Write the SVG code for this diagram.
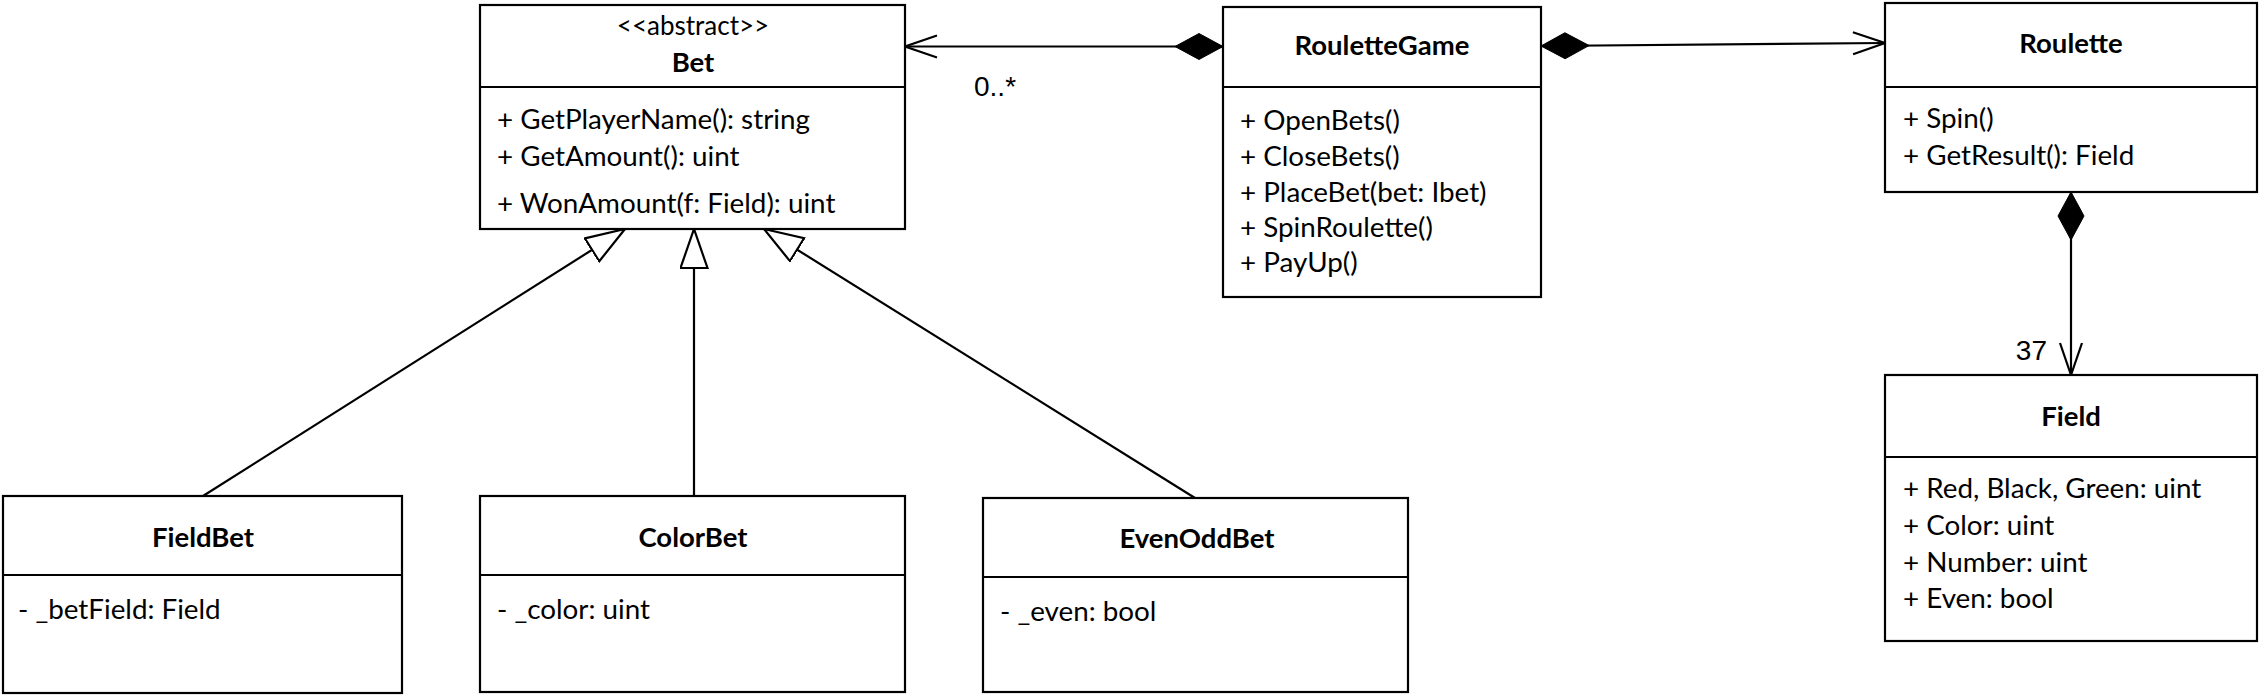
<svg xmlns="http://www.w3.org/2000/svg" width="2264" height="698" viewBox="0 0 2264 698">
<style>
.box{fill:#fff;stroke:#000;stroke-width:2.2}
.div{stroke:#000;stroke-width:2.2}
.t{font-family:Lato,"Open Sans","Liberation Sans",sans-serif;font-size:27.8px;fill:#000}
.b{font-weight:bold;text-anchor:middle;font-size:27.5px}
.c{text-anchor:middle;font-size:26px}
.m{font-family:"Liberation Sans",Arial,sans-serif;font-size:28px;fill:#000}
.ln{fill:none;stroke:#000;stroke-width:2.2}
</style>
<defs>
<marker id="tri" markerUnits="userSpaceOnUse" markerWidth="42" markerHeight="30" viewBox="-1 -1 42 30" refX="39" refY="13.5" orient="auto">
<path d="M0,0 L39,13.5 L0,27 Z" fill="#fff" stroke="#000" stroke-width="2.2"/>
</marker>
<marker id="open" markerUnits="userSpaceOnUse" markerWidth="36" markerHeight="28" viewBox="-2 -2 36 28" refX="32" refY="11" orient="auto">
<path d="M0,0 L32,11 L0,22" fill="none" stroke="#000" stroke-width="2.2"/>
</marker>
<marker id="dia" markerUnits="userSpaceOnUse" markerWidth="50" markerHeight="28" viewBox="0 -1 50 28" refX="0" refY="13" orient="auto">
<path d="M0,13 L24,0 L48,13 L24,26 Z" fill="#000" stroke="#000" stroke-width="1"/>
</marker>
</defs>

<g id="connectors">
<path class="ln" d="M1223,46.5 L905,46.5" marker-start="url(#dia)" marker-end="url(#open)"/>
<path class="ln" d="M1541,46 L1885,43" marker-start="url(#dia)" marker-end="url(#open)"/>
<path class="ln" d="M2071,192 L2071,375" marker-start="url(#dia)" marker-end="url(#open)"/>
<path class="ln" d="M203,496 L625,229" marker-end="url(#tri)"/>
<path class="ln" d="M694,496 L694,229" marker-end="url(#tri)"/>
<path class="ln" d="M1195,498 L764,229" marker-end="url(#tri)"/>
<text class="m" x="974" y="96">0..*</text>
<text class="m" x="2047" y="360" text-anchor="end">37</text>
</g>

<g id="Bet">
<rect class="box" x="480" y="5" width="425" height="224"/>
<line class="div" x1="480" y1="87" x2="905" y2="87"/>
<text class="t c" x="693" y="35">&lt;&lt;abstract&gt;&gt;</text>
<text class="t b" x="693" y="72">Bet</text>
<text class="t" x="497" y="129">+ GetPlayerName(): string</text>
<text class="t" x="497" y="166">+ GetAmount(): uint</text>
<text class="t" x="497" y="213">+ WonAmount(f: Field): uint</text>
</g>

<g id="RouletteGame">
<rect class="box" x="1223" y="7" width="318" height="290"/>
<line class="div" x1="1223" y1="87" x2="1541" y2="87"/>
<text class="t b" x="1382" y="55">RouletteGame</text>
<text class="t" x="1240" y="130">+ OpenBets()</text>
<text class="t" x="1240" y="166">+ CloseBets()</text>
<text class="t" x="1240" y="202">+ PlaceBet(bet: Ibet)</text>
<text class="t" x="1240" y="237">+ SpinRoulette()</text>
<text class="t" x="1240" y="272">+ PayUp()</text>
</g>

<g id="Roulette">
<rect class="box" x="1885" y="3" width="372" height="189"/>
<line class="div" x1="1885" y1="87" x2="2257" y2="87"/>
<text class="t b" x="2071" y="53">Roulette</text>
<text class="t" x="1903" y="128">+ Spin()</text>
<text class="t" x="1903" y="165">+ GetResult(): Field</text>
</g>

<g id="Field">
<rect class="box" x="1885" y="375" width="372" height="266"/>
<line class="div" x1="1885" y1="457" x2="2257" y2="457"/>
<text class="t b" x="2071" y="426">Field</text>
<text class="t" x="1903" y="498">+ Red, Black, Green: uint</text>
<text class="t" x="1903" y="535">+ Color: uint</text>
<text class="t" x="1903" y="572">+ Number: uint</text>
<text class="t" x="1903" y="608">+ Even: bool</text>
</g>

<g id="FieldBet">
<rect class="box" x="3" y="496" width="399" height="197"/>
<line class="div" x1="3" y1="575" x2="402" y2="575"/>
<text class="t b" x="203" y="547">FieldBet</text>
<text class="t" x="18" y="619">- _betField: Field</text>
</g>

<g id="ColorBet">
<rect class="box" x="480" y="496" width="425" height="196"/>
<line class="div" x1="480" y1="575" x2="905" y2="575"/>
<text class="t b" x="693" y="547">ColorBet</text>
<text class="t" x="497" y="619">- _color: uint</text>
</g>

<g id="EvenOddBet">
<rect class="box" x="983" y="498" width="425" height="194"/>
<line class="div" x1="983" y1="577" x2="1408" y2="577"/>
<text class="t b" x="1197" y="548">EvenOddBet</text>
<text class="t" x="1000" y="621">- _even: bool</text>
</g>
</svg>
